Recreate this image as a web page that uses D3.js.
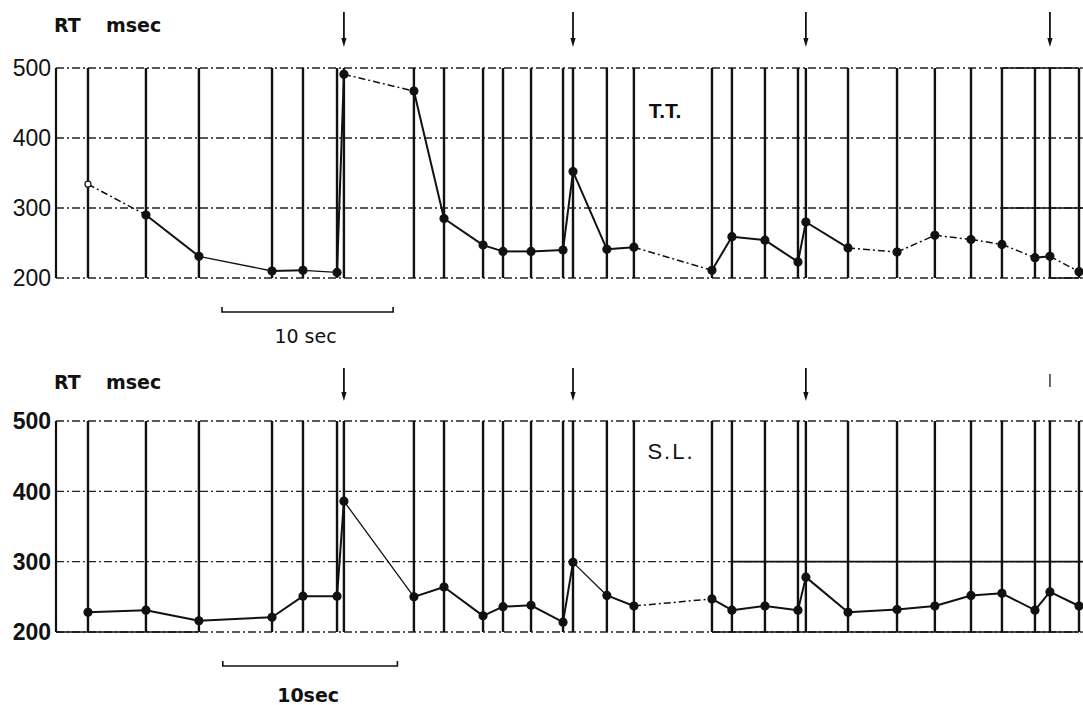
<!DOCTYPE html>
<html>
<head>
<meta charset="utf-8">
<script src="https://cdn.jsdelivr.net/npm/d3@7"></script>
<style>
  body { margin: 0; background: #fff; }
  svg text { fill: #111; }
</style>
</head>
<body>
<div id="chart"></div>
<script>
// stimulus times (sec from start of trace), same protocol for both subjects
var times = [1.86, 5.23, 8.31, 12.56, 14.36, 16.34, 16.74, 20.81, 22.56, 24.83, 25.99, 27.62,
             29.48, 30.06, 32.03, 33.60, 38.14, 39.30, 41.22, 43.14, 43.60, 46.05, 48.90,
             51.10, 53.20, 55.00, 56.92, 57.79, 59.48];
// arrows = change of condition
var arrowTimes = [16.74, 30.06, 43.60, 57.79];
var rtTicks = [500, 400, 300, 200];

// reaction times, msec
var rtTT = [334, 290, 231, 210, 211, 208, 491, 467, 285, 247, 238, 238, 240, 352, 241, 244,
            211, 259, 254, 223, 280, 243, 237, 261, 255, 248, 229, 231, 209];
var rtSL = [228, 231, 216, 221, 251, 251, 386, 250, 264, 223, 236, 238, 214, 299, 252, 237,
            247, 231, 237, 231, 278, 228, 232, 237, 252, 255, 231, 257, 237];

var width = 1083, height = 705;

var svg = d3.select("#chart")
  .append("svg")
    .attr("width", width)
    .attr("height", height);

var x = d3.scaleLinear()
  .domain([0, 59.48])
  .range([56, 1079]);

// line styles per segment (index of segment start)
var panels = [
  {
    name: "T.T.", data: rtTT, yRange: [278, 68], tickWeight: "normal",
    dashedSegs: [0, 6, 15, 21, 22, 23, 24, 25, 27], thinSegs: [2, 4],
    solidGrid: [[500, 55.0, 59.48], [300, 55.0, 59.7], [200, 57.79, 59.48]],
    arrowY: [12, 47], arrowShort: -1,
    barY: 312, barT: [9.65, 19.6], barText: "10 sec", barTextY: 343, barWeight: "normal",
    labelPos: [665, 118], labelSize: 21, labelWeight: "bold", labelSpacing: 0,
    titleY: 32
  },
  {
    name: "S.L.", data: rtSL, yRange: [632, 421], tickWeight: "bold",
    dashedSegs: [15], thinSegs: [6, 13],
    solidGrid: [[200, 0, 8.31], [200, 38.14, 59.48], [300, 39.30, 59.7]],
    arrowY: [368, 401], arrowShort: 3,
    barY: 666, barT: [9.7, 19.85], barText: "10sec", barTextY: 702, barWeight: "bold",
    labelPos: [671, 459], labelSize: 22, labelWeight: "normal", labelSpacing: 2,
    titleY: 389
  }
];

panels.forEach(function(p) {
  var y = d3.scaleLinear().domain([200, 500]).range(p.yRange);
  var g = svg.append("g");

  // horizontal dash-dot grid
  rtTicks.forEach(function(v) {
    g.append("line")
      .attr("x1", x(0)).attr("x2", x(59.7))
      .attr("y1", y(v)).attr("y2", y(v))
      .attr("stroke", "#222")
      .attr("stroke-width", (v === 500 || v === 200) ? 1.6 : 1.3)
      .attr("stroke-dasharray", "8,3,2,3");
  });
  p.solidGrid.forEach(function(s) {
    g.append("line")
      .attr("x1", x(s[1])).attr("x2", x(s[2]))
      .attr("y1", y(s[0])).attr("y2", y(s[0]))
      .attr("stroke", "#111")
      .attr("stroke-width", 1.6);
  });

  // y axis line
  g.append("line")
    .attr("x1", x(0)).attr("x2", x(0))
    .attr("y1", y(500)).attr("y2", y(200))
    .attr("stroke", "#111").attr("stroke-width", 2.2);

  // tick labels
  g.selectAll(".tick-label")
    .data(rtTicks)
    .enter()
    .append("text")
      .attr("x", 51)
      .attr("y", function(d) { return y(d); })
      .attr("dy", "0.36em")
      .attr("text-anchor", "end")
      .style("font-family", "Liberation Sans, Arial, sans-serif")
      .style("font-size", "23px")
      .style("font-weight", p.tickWeight)
      .text(function(d) { return d; });

  // vertical stimulus lines
  g.selectAll(".stim")
    .data(times)
    .enter()
    .append("line")
      .attr("x1", function(d) { return x(d); })
      .attr("x2", function(d) { return x(d); })
      .attr("y1", y(500)).attr("y2", y(200))
      .attr("stroke", "#111")
      .attr("stroke-width", 2.4);

  // RT trace, segment by segment
  for (var i = 0; i < p.data.length - 1; i++) {
    var dashed = p.dashedSegs.indexOf(i) >= 0;
    var thin = p.thinSegs.indexOf(i) >= 0;
    g.append("line")
      .attr("x1", x(times[i])).attr("y1", y(p.data[i]))
      .attr("x2", x(times[i + 1])).attr("y2", y(p.data[i + 1]))
      .attr("stroke", "#111")
      .attr("stroke-width", dashed ? 1.5 : (thin ? 1.3 : 2))
      .attr("stroke-dasharray", dashed ? "7,3,2,3" : null);
  }

  g.selectAll(".pt")
    .data(p.data)
    .enter()
    .append("circle")
      .attr("cx", function(d, i) { return x(times[i]); })
      .attr("cy", function(d) { return y(d); })
      .attr("r", function(d, i) { return (p.name === "T.T." && i === 0) ? 3 : 4; })
      .attr("fill", function(d, i) { return (p.name === "T.T." && i === 0) ? "#fff" : "#111"; })
      .attr("stroke", "#111")
      .attr("stroke-width", 1.2);

  // arrows above
  arrowTimes.forEach(function(t, i) {
    var ax = x(t);
    var y0 = p.arrowY[0], y1 = p.arrowY[1];
    if (i === p.arrowShort) {
      g.append("line")
        .attr("x1", ax).attr("x2", ax)
        .attr("y1", y0 + 6).attr("y2", y0 + 19)
        .attr("stroke", "#444").attr("stroke-width", 1.6);
      return;
    }
    g.append("line")
      .attr("x1", ax).attr("x2", ax)
      .attr("y1", y0).attr("y2", y1 - 6)
      .attr("stroke", "#111").attr("stroke-width", 1.8);
    g.append("path")
      .attr("d", "M" + (ax - 2.6) + "," + (y1 - 9) + "L" + (ax + 2.6) + "," + (y1 - 9) + "L" + ax + "," + y1 + "Z")
      .attr("fill", "#111");
  });

  // RT msec
  g.append("text")
    .attr("x", 54).attr("y", p.titleY)
    .style("font-family", "DejaVu Sans, sans-serif")
    .style("font-size", "19px")
    .style("font-weight", "bold")
    .text("RT");
  g.append("text")
    .attr("x", 106).attr("y", p.titleY)
    .style("font-family", "DejaVu Sans, sans-serif")
    .style("font-size", "19px")
    .style("font-weight", "bold")
    .text("msec");

  // subject label
  g.append("text")
    .attr("x", p.labelPos[0]).attr("y", p.labelPos[1])
    .attr("text-anchor", "middle")
    .style("font-family", "Liberation Sans, Arial, sans-serif")
    .style("font-size", p.labelSize + "px")
    .style("font-weight", p.labelWeight)
    .style("letter-spacing", p.labelSpacing + "px")
    .text(p.name);

  // 10 sec scale bar
  var bx0 = x(p.barT[0]), bx1 = x(p.barT[1]);
  g.append("path")
    .attr("d", "M" + bx0 + "," + (p.barY - 5) + "L" + bx0 + "," + p.barY + "L" + bx1 + "," + p.barY + "L" + bx1 + "," + (p.barY - 5))
    .attr("fill", "none")
    .attr("stroke", "#111")
    .attr("stroke-width", 1.6);
  g.append("text")
    .attr("x", (bx0 + bx1) / 2 - 2).attr("y", p.barTextY)
    .attr("text-anchor", "middle")
    .style("font-family", "DejaVu Sans, sans-serif")
    .style("font-size", "19px")
    .style("font-weight", p.barWeight)
    .text(p.barText);
});
</script>
</body>
</html>
